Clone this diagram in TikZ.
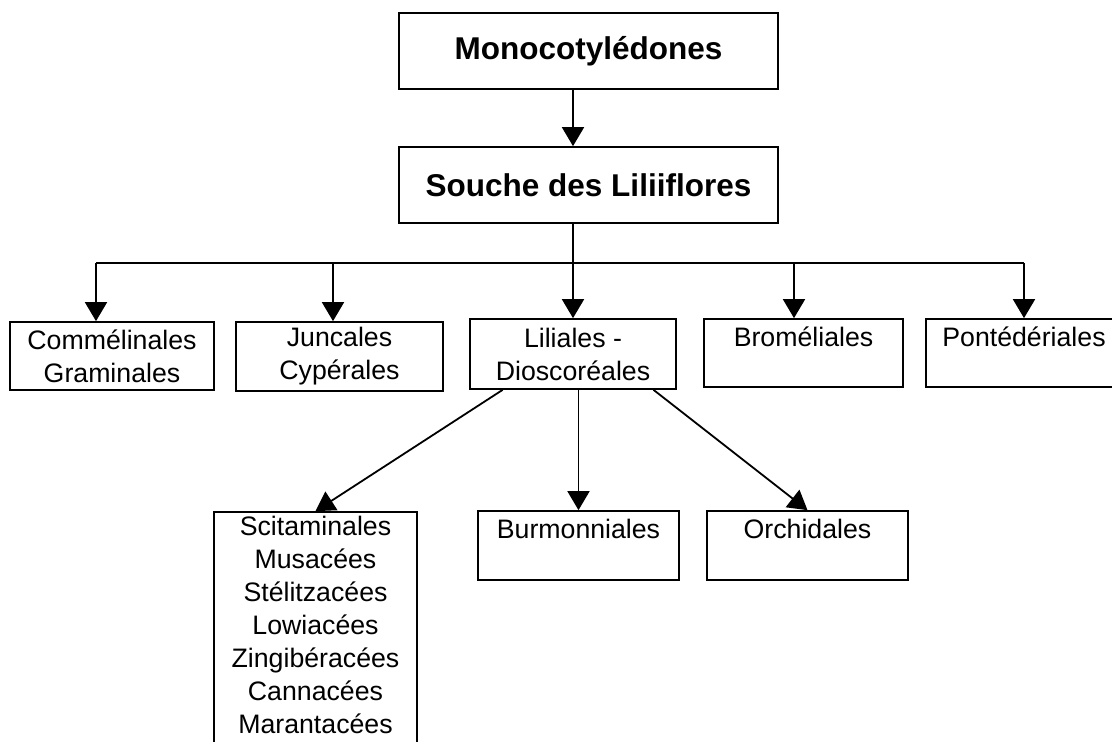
\documentclass[tikz,border=0pt]{standalone}
\usepackage{fontspec}
\setmainfont{Liberation Sans}
\usetikzlibrary{arrows.meta}

\tikzset{
	box/.style={draw, line width=1.7pt, inner sep=0pt, align=center,
		font=\fontsize{26.7}{33}\selectfont},
	bigbox/.style={box, minimum width=379pt, minimum height=76pt,
		font=\fontsize{31.5}{38}\selectfont\bfseries},
	arr/.style={-{Triangle[length=19pt,width=22pt]}}
}

\begin{document}
\begin{tikzpicture}[x=1pt, y=-1pt, line width=1.8pt]
	\useasboundingbox (0,0) rectangle (1112,742);
	\clip (0,0) rectangle (1112,742);

	\node[bigbox] (mono) at (588.5,51) {Monocotylédones};
	\node[bigbox] (souche) at (588.5,185) {Souche des Liliiflores};

	\node[box, minimum width=204pt, minimum height=68pt] (comm) at (112,356) {Commélinales\\Graminales};
	\node[box, minimum width=207pt, minimum height=69pt] (junc) at (339.5,356.5) {Juncales\\Cypérales};
	\node[box, minimum width=206pt, minimum height=70pt] (lili) at (573,354) {Liliales -\\Dioscoréales};
	\node[box, minimum width=199pt, minimum height=68pt] (brom) at (803.5,353) {Broméliales\\~};
	\node[box, minimum width=196pt, minimum height=68pt] (pont) at (1024,353) {Pontédériales\\~};

	\node[box, minimum width=203pt, minimum height=258pt] (scit) at (315.5,641)
		{Scitaminales\\Musacées\\Stélitzacées\\Lowiacées\\Zingibéracées\\Cannacées\\Marantacées\\~};
	\node[box, minimum width=201pt, minimum height=69pt] (burm) at (578.5,545.5) {Burmonniales\\~};
	\node[box, minimum width=201pt, minimum height=69pt] (orch) at (807.5,545.5) {Orchidales\\~};

	\coordinate (b1) at (96,263);
	\coordinate (b2) at (333,263);
	\coordinate (b3) at (573,263);
	\coordinate (b4) at (794,263);
	\coordinate (b5) at (1024,263);

	\draw[arr] (b3 |- mono.south) -- (b3 |- souche.north);
	\draw (b3 |- souche.south) -- (b3);
	\draw (b1) -- (b5);

	\draw[arr] (b1) -- (b1 |- comm.north);
	\draw[arr] (b2) -- (b2 |- junc.north);
	\draw[arr] (b3) -- (lili);
	\draw[arr] (b4) -- (b4 |- brom.north);
	\draw[arr] (b5) -- (pont);

	\draw[arr] (lili.-153) -- (scit.north);
	\draw[arr] (burm.north |- lili.south) -- (burm.north);
	\draw[arr] (lili.-24) -- (orch.north);
\end{tikzpicture}
\end{document}
